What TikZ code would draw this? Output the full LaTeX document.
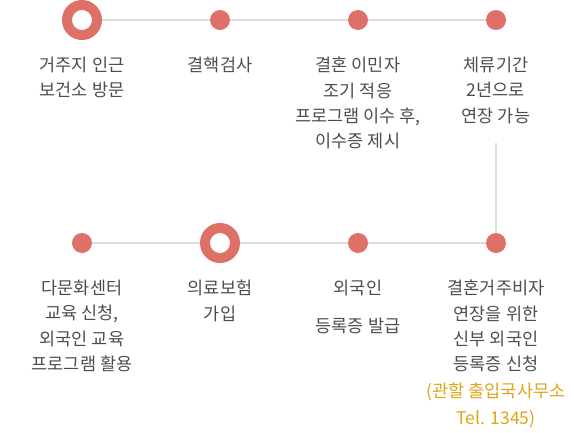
\documentclass[tikz,border=0pt]{standalone}
\usepackage{fontspec}
\setmainfont{Noto Sans CJK KR}
\usepackage{xcolor}
\usepackage{tikz}
\usetikzlibrary{positioning}

\definecolor{dotred}{HTML}{DE7067}
\definecolor{linegray}{HTML}{DDDDDD}
\definecolor{textgray}{HTML}{4D4D4D}
\definecolor{notegold}{HTML}{E0A418}

\begin{document}
\begin{tikzpicture}[
  x=1pt, y=-1pt,
  dot/.style={circle, fill=dotred, minimum size=20pt, inner sep=0pt},
  ring/.style={circle, draw=dotred, line width=10pt, fill=white, minimum size=30pt, inner sep=0pt},
  label/.style={align=center, inner sep=0pt, text=textgray, font=\fontsize{17.5}{25.3}\selectfont},
  track/.style={draw=linegray, line width=2pt}
]
\useasboundingbox (0,0) rectangle (574,432);

% markers
\coordinate (d1) at (82,20);
\coordinate (d2) at (220,20);
\coordinate (d3) at (358,20);
\coordinate (d4) at (496,20);
\coordinate (e1) at (82,243);
\coordinate (e2) at (220,243);
\coordinate (e3) at (358,243);
\coordinate (e4) at (496,243);
\coordinate (vtop) at (496,143);

\draw[track] (d1) -- (d4);
\draw[track] (vtop) -- (e4);
\draw[track] (e1) -- (e4);

\node[ring] (m1) at (d1) {};
\node[dot] (m2) at (d2) {};
\node[dot] (m3) at (d3) {};
\node[dot] (m4) at (d4) {};
\node[dot] (n1) at (e1) {};
\node[ring] (n2) at (e2) {};
\node[dot] (n3) at (e3) {};
\node[dot] (n4) at (e4) {};

% texts
\node[label, below=37pt of d1] (t1) {거주지 인근\\보건소 방문};
\node[label, below=37pt of d2] (t2) {결핵검사};
\node[label, below=37pt of d3] (t3) {결혼 이민자\\조기 적응\\프로그램 이수 후,\\이수증 제시};
\node[label, below=37pt of d4] (t4) {체류기간\\2년으로\\연장 가능};
\node[label, below=37pt of e1] (s1) {다문화센터\\교육 신청,\\외국인 교육\\프로그램 활용};
\node[label, below=37pt of e2] (s2) {의료보험\\가입};
\node[label, below=37pt of e3] (s3) {외국인\\[13pt]등록증 발급};
\node[label, below=37pt of e4] (s4) {결혼거주비자\\연장을 위한\\신부 외국인\\등록증 신청\\[1.5pt]\textcolor{notegold}{(관할 출입국사무소}\\[1.5pt]\textcolor{notegold}{Tel. 1345)}};
\end{tikzpicture}
\end{document}
